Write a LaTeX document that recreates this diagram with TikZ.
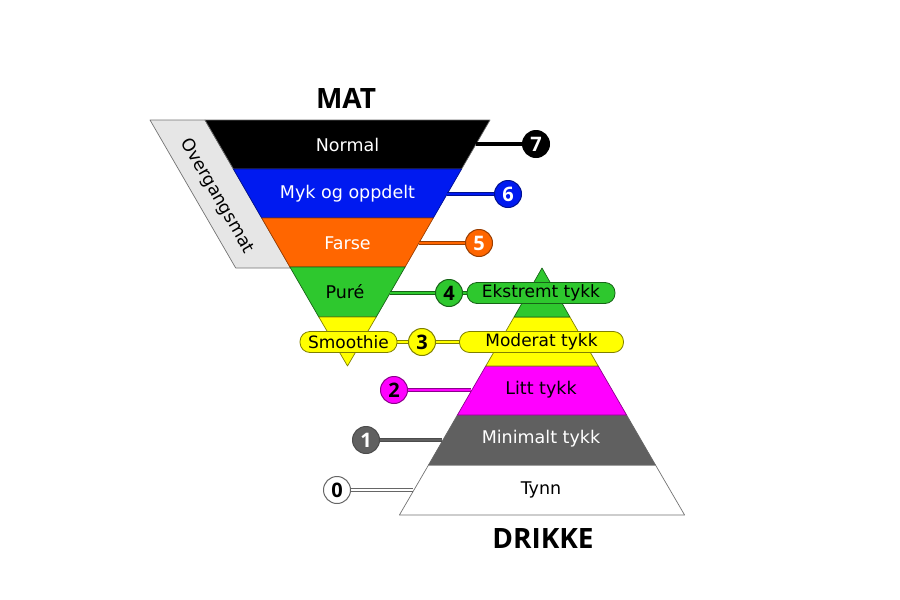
\documentclass[tikz,border=0pt]{standalone}
\usepackage{fontspec}
\setmainfont{DejaVu Sans}
\newfontfamily\osans{Open Sans}
\definecolor{cblack}{RGB}{0,0,0}
\definecolor{cblue}{RGB}{0,26,240}
\definecolor{corange}{RGB}{255,102,0}
\definecolor{cgreen}{RGB}{46,200,46}
\definecolor{cyellow}{RGB}{255,255,0}
\definecolor{cmagenta}{RGB}{255,0,255}
\definecolor{cgrey}{RGB}{96,96,96}
\definecolor{cwhite}{RGB}{255,255,255}
\definecolor{cpale}{RGB}{230,230,230}
\begin{document}
\begin{tikzpicture}[x=1pt,y=-1pt,
  band/.style={line width=0.7pt, line join=round},
  lbl/.style={font=\fontsize{17.5}{19}\selectfont, inner sep=0pt},
  num/.style={circle, minimum size=27pt, inner sep=0pt, line width=1pt, font=\osans\fontsize{20}{20}\selectfont\bfseries},
  pill/.style={rounded corners=10pt, minimum height=21pt, inner sep=0pt, line width=0.8pt, font=\fontsize{17}{18}\selectfont},
  conn/.style={line width=0.7pt, double distance=2.4pt, line cap=butt},
  title/.style={font=\osans\fontsize{28}{30}\selectfont\bfseries, inner sep=0pt}
]
\useasboundingbox (0,0) rectangle (900,600);
% Overgangsmat parallelogram
\draw[band, fill=cpale, draw=black!55] (150,120) -- (205,120) -- (290.7,268) -- (235.7,268) -- cycle;
\node[lbl, rotate=-60] (ov) at (217,196) {Overgangsmat};
% funnel bands (MAT)
\draw[band, fill=cblack, draw=black!60] (205,120) -- (490,120) -- (461.6,169) -- (233.4,169) -- cycle;
\draw[band, fill=cblue, draw=cblue!60!black] (233.4,169) -- (461.6,169) -- (433.3,218) -- (261.7,218) -- cycle;
\draw[band, fill=corange, draw=corange!60!black] (261.7,218) -- (433.3,218) -- (405.1,267) -- (289.9,267) -- cycle;
\draw[band, fill=cgreen, draw=cgreen!50!black] (289.9,267) -- (405.1,267) -- (376.2,317) -- (318.8,317) -- cycle;
\draw[band, fill=cyellow, draw=cyellow!50!black] (318.8,317) -- (376.2,317) -- (347.5,366) -- cycle;
\node[lbl, text=white] (normal) at (347.5,145) {Normal};
\node[lbl, text=white] (myk) at (347.5,194) {Myk og oppdelt};
\node[lbl, text=white] (farse) at (347.5,243) {Farse};
\node[lbl] (pure) at (345,292) {Puré};
\node[title] (mat) at (346,98) {MAT};
% pyramid bands (DRIKKE)
\draw[band, fill=cwhite, draw=black!55] (428.5,465) -- (655.5,465) -- (684.6,515) -- (399.4,515) -- cycle;
\draw[band, fill=cgrey, draw=black!60] (457.4,415) -- (626.6,415) -- (655.5,465) -- (428.5,465) -- cycle;
\draw[band, fill=cmagenta, draw=cmagenta!55!black] (485.8,366) -- (598.2,366) -- (626.6,415) -- (457.4,415) -- cycle;
\draw[band, fill=cyellow, draw=cyellow!50!black] (514.1,317) -- (569.9,317) -- (598.2,366) -- (485.8,366) -- cycle;
\draw[band, fill=cgreen, draw=cgreen!50!black] (542,268) -- (569.9,317) -- (514.1,317) -- cycle;
\node[lbl] (tynn) at (541,490) {Tynn};
\node[lbl, text=white] (minimalt) at (541,439) {Minimalt tykk};
\node[lbl] (litt) at (541,390) {Litt tykk};
\node[title] (drikke) at (543,538) {DRIKKE};
% edge coordinates
\coordinate (e7) at (476,144);
\coordinate (e6) at (447,194);
\coordinate (e5) at (419,243);
\coordinate (e4) at (390,293);
\coordinate (e2) at (471,390);
\coordinate (e1) at (442,440);
\coordinate (e0) at (413,490);
% connectors
\draw[conn, draw=black, double=black] (e7) -- (522,144);
\draw[conn, draw=cblue!60!black, double=cblue] (e6) -- (494,194);
\draw[conn, draw=corange!60!black, double=corange] (e5) -- (465,243);
\draw[conn, draw=cgreen!50!black, double=cgreen] (e4) -- (435,293);
\draw[conn, draw=cgreen!50!black, double=cgreen] (462,293) -- (468,293);
\draw[conn, draw=cyellow!50!black, double=cyellow] (396,342) -- (409,342);
\draw[conn, draw=cyellow!50!black, double=cyellow] (435,342) -- (461,342);
\draw[conn, draw=cmagenta!55!black, double=cmagenta] (407,390) -- (e2);
\draw[conn, draw=black!70, double=cgrey] (379,440) -- (e1);
\draw[conn, draw=black!60, double=cwhite] (350,490) -- (e0);
% circles
\node[num, fill=cblack, draw=black, text=white] (n7) at (536,144) {7};
\node[num, fill=cblue, draw=cblue!60!black, text=white] (n6) at (508,194) {6};
\node[num, fill=corange, draw=corange!60!black, text=white] (n5) at (479,243) {5};
\node[num, fill=cgreen, draw=cgreen!50!black] (n4) at (449,293) {4};
\node[num, fill=cyellow, draw=cyellow!50!black] (n3) at (422,342) {3};
\node[num, fill=cmagenta, draw=cmagenta!55!black] (n2) at (394,390) {2};
\node[num, fill=cgrey, draw=black!70, text=white] (n1) at (366,440) {1};
\node[num, fill=cwhite, draw=black!60] (n0) at (337,490) {0};
% pills
\node[pill, fill=cgreen, draw=cgreen!50!black, minimum width=148pt] (ek) at (541,293) {Ekstremt tykk};
\node[pill, fill=cyellow, draw=cyellow!50!black, minimum width=164pt] (mod) at (541.5,342) {Moderat tykk};
\node[pill, fill=cyellow, draw=cyellow!50!black, minimum width=97pt] (smo) at (348.5,342) {Smoothie};
\end{tikzpicture}
\end{document}
